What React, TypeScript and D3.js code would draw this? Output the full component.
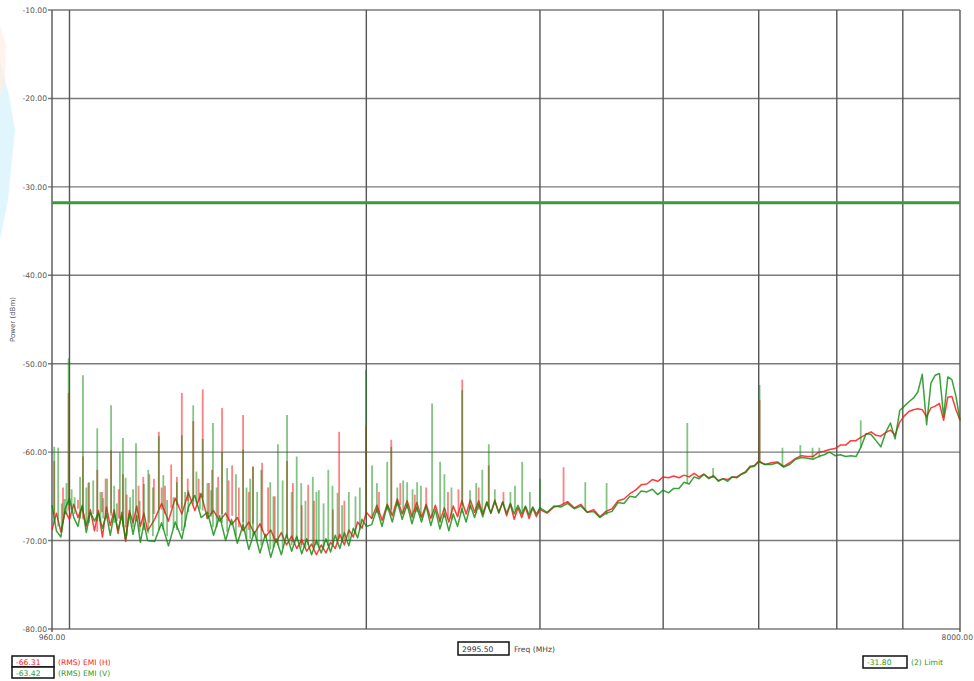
import React from "react";
import * as d3 from "d3";

// ---- data (MHz / dBm) ----
const FREQ = [
  960, 970, 980, 990, 1000, 1010, 1020, 1030, 1040, 1050, 1060, 1070, 1080, 1090, 1100, 1110, 1120, 1130, 1140, 1150, 1160, 1170, 1180, 1190, 1200,
  1220, 1240, 1260, 1280, 1300, 1320, 1340, 1360, 1380, 1400, 1420, 1440, 1460, 1480, 1500, 1520, 1540, 1560, 1580, 1600,
  1620, 1640, 1660, 1680, 1700, 1720, 1740, 1760, 1780, 1800, 1820, 1840, 1860, 1880, 1900, 1920, 1940, 1960, 1980, 2000,
  2025, 2050, 2075, 2100, 2125, 2150, 2175, 2200, 2225, 2250, 2275, 2300, 2325, 2350, 2375, 2400, 2425, 2450, 2475, 2500,
  2525, 2550, 2575, 2600, 2625, 2650, 2675, 2700, 2725, 2750, 2775, 2800, 2825, 2850, 2875, 2900, 2925, 2950, 2975, 3000,
  3050, 3100, 3150, 3200, 3250, 3300, 3350, 3400, 3450, 3500, 3550, 3600, 3650, 3700, 3750, 3800, 3850, 3900, 3950, 4000,
  4050, 4100, 4150, 4200, 4250, 4300, 4350, 4400, 4450, 4500, 4550, 4600, 4650, 4700, 4750, 4800, 4850, 4900, 4950, 5000,
  5075, 5150, 5225, 5300, 5375, 5450, 5525, 5600, 5675, 5750, 5825, 5900, 5975, 6050, 6125, 6200, 6275, 6350, 6425, 6500,
  6575, 6650, 6725, 6800, 6875, 6950, 7025, 7100, 7175, 7250, 7325, 7400, 7475, 7550, 7625, 7700, 7775, 7850, 7925, 8000,
];

const EMI_H = [
  -68.8, -66.9, -69.0, -66.7, -67.6, -65.9, -67.4, -66.2, -68.4, -66.5, -68.9, -66.6, -69.6, -66.2, -68.3, -66.5, -69.2, -66.8, -70.1, -66.6, -68.0, -66.1, -68.4, -66.9, -68.9,
  -67.6, -65.8, -67.8, -65.2, -67.0, -64.6, -66.6, -64.7, -67.5, -66.6, -67.8, -66.9, -68.2, -67.4, -68.9, -67.9, -69.2, -68.1, -69.6, -68.8,
  -70.2, -69.1, -70.5, -69.5, -70.9, -69.9, -71.2, -70.4, -71.6, -70.5, -71.4, -70.2, -70.9, -69.3, -70.5, -68.8, -69.6, -67.9, -68.6, -66.8,
  -67.5, -66.0, -67.7, -65.9, -67.2, -65.3, -67.0, -65.5, -67.3, -65.7, -67.4, -65.9, -67.5, -66.0, -67.8, -66.3, -67.9, -66.1, -67.3, -65.5,
  -67.0, -65.4, -66.8, -65.5, -67.0, -65.6, -66.9, -65.4, -66.9, -65.6, -67.2, -65.9, -67.6, -66.3, -67.4, -66.2, -67.5, -66.3, -67.3, -66.5,
  -66.9, -66.2, -66.0, -65.6, -66.3, -65.9, -66.8, -66.5, -67.3, -66.7, -66.4, -65.5, -65.3, -64.7, -64.3, -63.7, -63.6, -63.1, -63.3, -62.8,
  -62.9, -62.7, -62.9, -62.6, -62.8, -62.4, -62.8, -62.5, -62.9, -62.7, -63.2, -63.0, -63.1, -62.8, -62.8, -62.5, -62.2, -61.6, -61.5, -61.0,
  -61.4, -61.2, -61.1, -61.6, -61.2, -60.7, -60.4, -60.5, -60.5, -60.0, -59.9, -59.7, -59.6, -59.2, -59.2, -58.7, -58.7, -58.3, -58.0, -57.7,
  -58.1, -58.2, -57.8, -57.5, -58.1, -56.6, -55.9, -55.4, -55.2, -55.1, -55.2, -56.0, -55.0, -54.8, -54.5, -56.4, -53.8, -53.7, -55.2, -56.4,
];

const EMI_V = [
  -66.0, -68.9, -69.6, -66.4, -65.2, -67.4, -68.4, -66.0, -69.1, -66.8, -67.8, -66.9, -68.6, -67.0, -69.4, -66.9, -68.8, -67.2, -69.9, -67.0, -69.3, -67.2, -70.2, -68.0, -70.0,
  -70.1, -68.0, -70.6, -67.9, -69.8, -66.2, -64.9, -67.4, -66.8, -69.4, -67.2, -70.0, -67.6, -70.3, -68.2, -71.0, -69.0, -71.4, -69.3, -71.9,
  -69.8, -71.6, -69.3, -71.2, -69.5, -71.5, -69.8, -71.6, -70.0, -71.4, -69.8, -71.3, -69.4, -70.9, -69.1, -70.6, -68.6, -69.7, -67.6, -68.4,
  -68.2, -66.4, -68.4, -66.0, -67.9, -65.6, -67.6, -65.9, -68.1, -66.2, -67.9, -66.1, -68.3, -66.5, -68.7, -66.9, -68.9, -67.0, -68.4, -66.4,
  -67.9, -66.0, -67.4, -65.9, -67.3, -65.7, -66.9, -65.6, -66.8, -65.7, -66.9, -65.8, -67.0, -66.0, -67.0, -66.1, -67.1, -66.2, -67.0, -66.3,
  -66.8, -66.1, -66.2, -65.8, -66.4, -66.1, -66.8, -66.7, -67.4, -66.9, -66.7, -65.7, -65.8, -65.0, -65.1, -64.4, -64.5, -64.2, -64.8, -64.3,
  -64.6, -64.1, -64.1, -63.4, -63.6, -62.8, -63.0, -62.5, -63.0, -62.7, -63.3, -63.0, -63.3, -62.8, -62.9, -62.5, -62.3, -61.7, -61.6, -61.1,
  -61.4, -61.4, -61.2, -61.7, -61.4, -60.8, -60.6, -60.7, -60.8, -60.5, -60.3, -60.0, -60.4, -60.3, -60.5, -60.4, -60.5, -59.4, -57.9, -58.0,
  -58.7, -59.4, -57.8, -56.7, -58.5, -55.3, -54.8, -54.3, -53.9, -53.2, -51.2, -56.9, -52.2, -51.3, -51.1, -56.0, -51.5, -51.8, -53.7, -56.4,
];

// narrow emission spikes: frequency, local floor, peak
const SPIKE_F_V = [
  965, 974, 982, 989, 998, 1012, 1032, 1047, 1067, 1082, 1102, 1117, 1125, 1133, 1152, 1168, 1178, 1202, 1232, 1256, 1275, 1300,
  1320, 1335, 1356, 1365, 1392, 1398, 1428, 1500, 1525, 1535, 1565, 1598, 1627, 1662, 1700, 1718, 1765, 1780, 1790, 1830, 1848,
  1920, 1950, 1998, 2027, 2050, 2100, 2120, 2150, 2180, 2200, 2228, 2252, 2272, 2332, 2376, 2400, 2440, 2502, 2548, 2585, 2622,
  2662, 2700, 2800, 2830, 2878, 2930, 3000, 3335, 3505, 4232, 4495, 5010, 5285, 5510, 5670, 5760, 6345,
  993, 1005, 1025, 1040, 1057, 1075, 1092, 1110, 1140, 1160, 1190, 1215, 1245, 1285, 1310, 1345, 1380, 1410, 1445, 1475,
  1512, 1550, 1610, 1645, 1680, 1735, 1810, 1870, 1890, 1970,
];
const SPIKE_BASE_V = [
  -67.0, -68.4, -69.0, -67.0, -66.0, -67.0, -66.5, -68.0, -67.8, -67.5, -67.2, -67.8, -67.6, -68.5, -67.4, -67.8, -69.0, -69.2, -68.8, -69.5, -68.6, -68.9,
  -66.8, -65.6, -66.5, -66.6, -67.3, -68.5, -68.0, -68.8, -69.8, -69.5, -70.5, -71.0, -70.5, -69.8, -70.0, -70.8, -70.6, -70.5, -70.8, -70.6, -70.2,
  -70.0, -69.2, -67.6, -67.5, -66.9, -66.6, -67.0, -66.1, -66.9, -66.4, -67.5, -66.8, -67.3, -67.4, -68.0, -67.4, -67.6, -66.9, -66.5, -66.9, -66.8,
  -66.3, -65.9, -66.1, -66.6, -66.7, -66.8, -66.5, -66.6, -67.1, -63.5, -62.9, -61.2, -61.6, -60.5, -60.7, -60.6, -59.5,
  -67.0, -66.5, -67.5, -68.3, -67.0, -67.8, -67.5, -68.0, -68.5, -68.5, -68.8, -69.5, -68.8, -68.8, -68.5, -65.8, -67.5, -68.5, -69.0, -69.5,
  -69.8, -70.0, -70.8, -70.8, -70.5, -70.8, -70.8, -70.0, -70.2, -68.8,
];
const SPIKE_TOP_V = [
  -59.4, -59.5, -65.8, -65.3, -49.4, -65.1, -51.3, -63.4, -57.3, -65.2, -54.7, -65.8, -60.0, -58.4, -65.1, -59.0, -65.5, -62.0, -58.2, -65.4, -65.1, -58.1,
  -64.3, -54.7, -64.6, -58.5, -64.3, -56.7, -60.0, -59.7, -63.0, -61.7, -62.0, -63.4, -59.1, -55.8, -60.5, -63.5, -62.8, -64.5, -64.3, -62.0, -63.8,
  -64.5, -65.0, -50.7, -61.5, -63.5, -61.1, -59.4, -64.0, -63.2, -63.4, -64.2, -63.4, -63.8, -54.5, -61.1, -62.5, -64.0, -53.0, -64.3, -63.5, -62.0,
  -59.1, -64.2, -64.5, -63.8, -61.1, -64.5, -63.0, -63.4, -63.5, -56.7, -61.8, -52.4, -59.5, -59.2, -59.5, -59.5, -56.4,
  -63.5, -64.2, -62.8, -64.0, -63.2, -64.5, -63.0, -63.8, -62.9, -64.2, -63.6, -64.0, -62.6, -63.4, -64.5, -62.2, -63.5, -64.0, -61.8, -62.5,
  -64.0, -64.5, -65.0, -63.2, -64.5, -65.5, -65.8, -64.6, -66.0, -64.0,
];

const SPIKE_F_H = [
  965, 998, 1020, 1032, 1067, 1079, 1102, 1133, 1143, 1188, 1218, 1232, 1250, 1268, 1300, 1335, 1352, 1365, 1395, 1428,
  1462, 1500, 1535, 1568, 1590, 1662, 1685, 1746, 1770, 1877, 1900, 1998, 2120, 2165, 2300, 2480, 2502, 2662, 2755, 3170, 5010,
  985, 1045, 1088, 1122, 1175, 1205, 1240, 1285, 1318, 1385, 1415, 1450, 1485, 1520, 1615, 1720, 1850, 2060, 2240, 2420, 2600,
];
const SPIKE_BASE_H = [
  -68.0, -66.6, -66.4, -67.6, -69.0, -66.8, -66.9, -68.0, -69.5, -68.3, -67.0, -66.4, -67.0, -66.3, -66.4, -65.9, -65.5, -65.2, -67.0, -67.0,
  -67.2, -67.9, -68.1, -68.9, -69.0, -69.6, -70.2, -70.5, -70.8, -69.8, -70.0, -67.2, -66.5, -66.0, -66.3, -66.9, -66.0, -66.2, -66.0, -65.9, -61.1,
  -68.0, -67.5, -67.0, -67.5, -67.5, -68.0, -66.5, -66.0, -65.5, -67.0, -67.3, -67.8, -68.5, -68.8, -69.8, -70.5, -70.5, -67.0, -66.8, -67.5, -66.5,
];
const SPIKE_TOP_H = [
  -61.0, -53.3, -65.4, -60.5, -62.0, -64.5, -59.8, -62.5, -64.8, -62.8, -63.0, -57.7, -63.8, -61.4, -53.3, -56.5, -63.0, -52.9, -62.0, -55.0,
  -61.5, -55.8, -61.6, -61.2, -64.0, -61.0, -63.5, -63.7, -65.5, -57.7, -65.5, -57.0, -58.6, -63.5, -64.0, -64.2, -51.8, -61.5, -64.5, -61.7, -54.1,
  -64.0, -63.5, -63.0, -64.2, -63.8, -62.5, -64.0, -62.8, -63.0, -63.5, -62.8, -63.2, -64.0, -64.5, -65.0, -66.0, -66.5, -64.5, -64.8, -64.5, -64.0,
];

const LIMIT_LEVEL = -31.8;
const Y_TICKS = [-10, -20, -30, -40, -50, -60, -70, -80];
const X_GRID = [1000, 2000, 3000, 4000, 5000, 6000, 7000, 8000];
const X_LABELS = [960, 8000];
const CURSOR_FREQ = 2995.5;
const CURSOR_H = -66.31;
const CURSOR_V = -63.42;

// ---- layout ----
const W = 974;
const H = 681;
const L = 52, R = 960, T = 10, B = 629;

const FONT = "'DejaVu Sans', Verdana, sans-serif";
const RED = "#ff1a1a";
const GREEN = "#0a8a0a";

type Pt = { f: number; v: number };

const fmt = (v: number) => v.toFixed(2);

export default function App() {
  const x = d3.scaleLog().domain([960, 8000]).range([L, R]);
  const y = d3.scaleLinear().domain([-80, -10]).range([B, T]);

  const line = d3
    .line<Pt>()
    .x((d) => x(d.f))
    .y((d) => y(d.v));

  const hPts: Pt[] = FREQ.map((f, i) => ({ f, v: EMI_H[i] }));
  const vPts: Pt[] = FREQ.map((f, i) => ({ f, v: EMI_V[i] }));

  return (
    <svg
      width={W}
      height={H}
      viewBox={`0 0 ${W} ${H}`}
      style={{ position: "absolute", left: 0, top: 0, background: "#fff" }}
    >
      <rect x={0} y={0} width={W} height={H} fill="#fff" />
      {/* faint watermark at the left edge */}
      <path d="M0,60 L9,95 L15,130 L8,200 L0,240 Z" fill="#d9f2fb" opacity={0.8} />
      <path d="M0,25 L6,45 L5,85 L0,95 Z" fill="#fdf0e2" opacity={0.7} />

      {/* horizontal grid */}
      {Y_TICKS.map((t) => (
        <g key={t}>
          <line x1={L - 4} x2={R} y1={y(t)} y2={y(t)} stroke="#7a7a7a" strokeWidth={1.4} />
          <text x={L - 5} y={y(t) + 3} textAnchor="end" fontFamily={FONT} fontSize={7.6} fill="#555">
            {fmt(t)}
          </text>
        </g>
      ))}

      {/* vertical grid */}
      <line x1={L} x2={L} y1={T} y2={B + 3} stroke="#555" strokeWidth={1.4} />
      {X_GRID.map((f) => (
        <line key={f} x1={x(f)} x2={x(f)} y1={T} y2={f === 8000 ? B + 3 : B} stroke="#555" strokeWidth={1.4} />
      ))}

      {X_LABELS.map((f, i) => (
        <text
          key={f}
          x={i === 0 ? x(f) : W - 1}
          y={B + 11}
          textAnchor={i === 0 ? "middle" : "end"}
          fontFamily={FONT}
          fontSize={7.6}
          fill="#555"
        >
          {fmt(f)}
        </text>
      ))}

      <text
        transform={`translate(15,${(T + B) / 2}) rotate(-90)`}
        textAnchor="middle"
        fontFamily={FONT}
        fontSize={7}
        fill="#555"
      >
        Power (dBm)
      </text>

      {/* limit */}
      <line x1={L} x2={R} y1={y(LIMIT_LEVEL)} y2={y(LIMIT_LEVEL)} stroke="#3a9a3a" strokeWidth={3} />

      {/* traces: noise floor + spikes */}
      <path d={line(hPts) || ""} fill="none" stroke={RED} strokeWidth={1.5} strokeOpacity={0.85} strokeLinejoin="round" />
      {SPIKE_F_H.map((f, i) => (
        <line
          key={"h" + i}
          x1={x(f)}
          x2={x(f)}
          y1={y(SPIKE_BASE_H[i])}
          y2={y(SPIKE_TOP_H[i])}
          stroke={RED}
          strokeWidth={1.8}
          strokeOpacity={0.55}
        />
      ))}
      <path d={line(vPts) || ""} fill="none" stroke={GREEN} strokeWidth={1.5} strokeOpacity={0.8} strokeLinejoin="round" />
      {SPIKE_F_V.map((f, i) => (
        <line
          key={"v" + i}
          x1={x(f)}
          x2={x(f)}
          y1={y(SPIKE_BASE_V[i])}
          y2={y(SPIKE_TOP_V[i])}
          stroke={GREEN}
          strokeWidth={1.8}
          strokeOpacity={0.5}
        />
      ))}

      {/* cursor readout */}
      <rect x={458} y={642} width={51} height={13} fill="#fff" stroke="#111" strokeWidth={1.5} />
      <text x={462} y={652} fontFamily={FONT} fontSize={7.6} fill="#333">
        {fmt(CURSOR_FREQ)}
      </text>
      <text x={514} y={652} fontFamily={FONT} fontSize={7.6} fill="#444">
        Freq (MHz)
      </text>

      {/* legend */}
      <rect x={12} y={656} width={42} height={11} fill="#fff" stroke="#111" strokeWidth={1.5} />
      <text x={16} y={665} fontFamily={FONT} fontSize={7.6} fill="#ff2020">
        {fmt(CURSOR_H)}
      </text>
      <text x={58} y={665} fontFamily={FONT} fontSize={7.6} fill="#ff2020">
        (RMS) EMI (H)
      </text>
      <rect x={12} y={667} width={42} height={11} fill="#fff" stroke="#111" strokeWidth={1.5} />
      <text x={16} y={676} fontFamily={FONT} fontSize={7.6} fill="#2a9a2a">
        {fmt(CURSOR_V)}
      </text>
      <text x={58} y={676} fontFamily={FONT} fontSize={7.6} fill="#2a9a2a">
        (RMS) EMI (V)
      </text>

      <rect x={863} y={656} width={44} height={12} fill="#fff" stroke="#111" strokeWidth={1.5} />
      <text x={867} y={665} fontFamily={FONT} fontSize={7.6} fill="#2a9a2a">
        {fmt(LIMIT_LEVEL)}
      </text>
      <text x={911} y={665} fontFamily={FONT} fontSize={7.6} fill="#2a9a2a">
        (2) Limit
      </text>
    </svg>
  );
}
